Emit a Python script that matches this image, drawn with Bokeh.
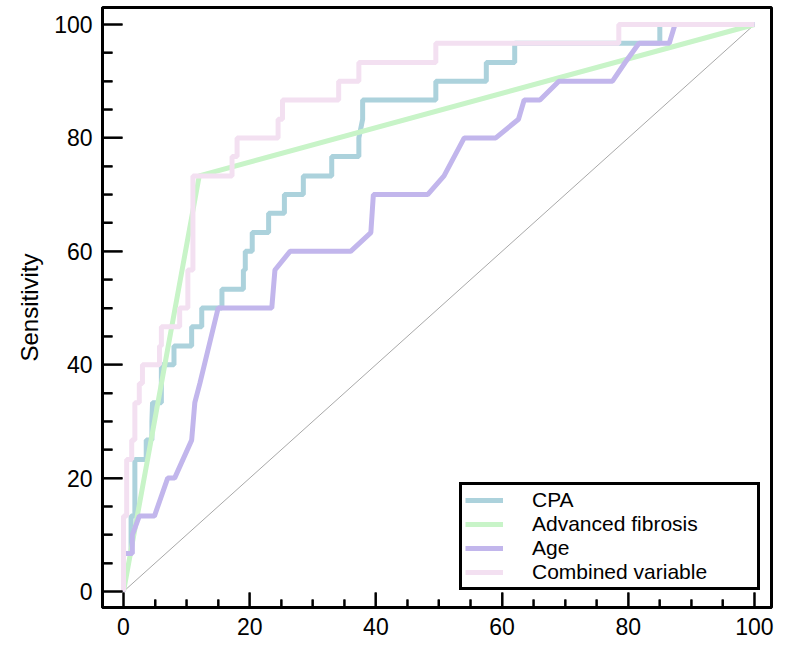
from bokeh.plotting import figure
from bokeh.models import Range1d, Legend, LegendItem, FixedTicker
from bokeh.embed import file_html
from bokeh.resources import INLINE

# ---- data ----
cpa_x = [0, 0, 1.2, 1.2, 1.8, 1.8, 3.6, 3.6, 4.5, 4.5, 4.6, 6.0, 6.0, 8.0, 8.0, 10.8, 10.8,
         12.4, 12.4, 15.6, 15.6, 19.0, 19.0, 19.3, 19.3, 20.4, 20.4, 23.0, 23.0, 25.5, 25.5,
         28.5, 28.5, 33.0, 33.0, 37.3, 37.3, 37.9, 37.9, 49.5, 49.5, 57.5, 57.5, 62.0, 62.0,
         85.0, 85.0, 100]
cpa_y = [0, 6.7, 6.7, 13.3, 13.3, 23.3, 23.3, 26.7, 26.7, 30.0, 33.3, 33.3, 40.0, 40.0, 43.3, 43.3, 46.7,
         46.7, 50.0, 50.0, 53.3, 53.3, 56.7, 56.7, 60.0, 60.0, 63.3, 63.3, 66.7, 66.7, 70.0,
         70.0, 73.3, 73.3, 76.7, 76.7, 80.0, 83.3, 86.7, 86.7, 90.0, 90.0, 93.3, 93.3, 96.7,
         96.7, 100, 100]

fib_x = [0, 12.0, 100]
fib_y = [0, 73.3, 100]

age_x = [0, 0, 1.4, 1.4, 2.5, 4.9, 7.0, 8.1, 10.8, 11.3, 12.1, 15.0, 23.5, 24.0, 26.4, 36.0,
         39.2, 39.6, 48.2, 50.8, 54.0, 59.0, 62.6, 63.5, 66.0, 69.0, 77.5, 79.5, 81.7, 86.5,
         87.4, 100]
age_y = [0, 6.7, 6.7, 10.0, 13.3, 13.3, 20.0, 20.0, 26.7, 33.3, 36.7, 50.0, 50.0, 56.7, 60.0, 60.0,
         63.3, 70.0, 70.0, 73.3, 80.0, 80.0, 83.3, 86.7, 86.7, 90.0, 90.0, 93.3, 96.7, 96.7,
         100, 100]

comb_x = [0, 0, 0.5, 0.5, 1.3, 1.3, 1.8, 1.8, 2.5, 2.5, 3.0, 3.0, 5.7, 5.7, 6.0, 6.0, 8.9, 8.9,
          10.2, 10.2, 11.0, 11.0, 17.2, 17.2, 18.0, 18.0, 24.5, 24.5, 25.2, 25.2, 34.1, 34.1,
          37.3, 37.3, 49.5, 49.5, 78.5, 78.5, 100]
comb_y = [0, 13.3, 13.3, 23.3, 23.3, 26.7, 26.7, 33.3, 33.3, 36.7, 36.7, 40.0, 40.0, 43.3, 43.3, 46.7, 46.7, 50.0,
          50.0, 56.7, 56.7, 73.3, 73.3, 76.7, 76.7, 80.0, 80.0, 83.3, 83.3, 86.7, 86.7, 90.0,
          90.0, 93.3, 93.3, 96.7, 96.7, 100, 100]

ref_x = [0, 100]
ref_y = [0, 100]

labels = ["CPA", "Advanced fibrosis", "Age", "Combined variable"]
colors = ["#acd2dc", "#c8f4c8", "#c2b6ec", "#f3e0f1"]
major_ticks = [0, 20, 40, 60, 80, 100]
minor_ticks = [5, 10, 15, 25, 30, 35, 45, 50, 55, 65, 70, 75, 85, 90, 95]

FONT = "Liberation Sans"

FW, FH = 669, 600
X0, X1 = -3.33, 102.7
Y0, Y1 = -2.82, 103.0

p = figure(frame_width=FW, frame_height=FH, output_backend="svg", toolbar_location=None,
           x_range=Range1d(X0, X1), y_range=Range1d(Y0, Y1),
           min_border_left=102, min_border_right=4, min_border_top=7, min_border_bottom=33)

p.outline_line_color = "black"
p.outline_line_width = 3
p.xgrid.visible = False
p.ygrid.visible = False

for ax in (p.xaxis[0], p.yaxis[0]):
    ax.ticker = FixedTicker(ticks=major_ticks, minor_ticks=minor_ticks)
    ax.axis_line_width = 3
    ax.axis_line_color = "black"
    ax.major_tick_out = 0
    ax.minor_tick_out = 0
    ax.major_tick_line_width = 2
    ax.minor_tick_line_width = 2
    ax.major_tick_line_color = "black"
    ax.minor_tick_line_color = "black"
    ax.major_label_text_font = FONT
    ax.major_label_text_font_size = "23px"
    ax.major_label_text_color = "black"
    ax.major_label_standoff = 10

p.xaxis[0].major_tick_in = 15
p.xaxis[0].minor_tick_in = 8
p.yaxis[0].major_tick_in = 20
p.yaxis[0].minor_tick_in = 10

p.yaxis.axis_label = "Sensitivity"
p.yaxis.axis_label_text_font = FONT
p.yaxis.axis_label_text_font_size = "24px"
p.yaxis.axis_label_text_font_style = "normal"
p.yaxis.axis_label_text_color = "black"
p.yaxis.axis_label_standoff = 8

p.line(ref_x, ref_y, line_color="#a8a8a8", line_width=1)

r_cpa = p.line(cpa_x, cpa_y, line_color=colors[0], line_width=5)
r_fib = p.line(fib_x, fib_y, line_color=colors[1], line_width=5)
r_age = p.line(age_x, age_y, line_color=colors[2], line_width=5)
r_comb = p.line(comb_x, comb_y, line_color=colors[3], line_width=5)

# inward tick marks, also drawn on the overlay level so nothing covers them
px_x = FW / (X1 - X0)
px_y = FH / (Y1 - Y0)
p.segment(x0=major_ticks, y0=[Y0] * len(major_ticks), x1=major_ticks,
          y1=[Y0 + 15 / px_y] * len(major_ticks), line_color="black", line_width=2, level="overlay")
p.segment(x0=minor_ticks, y0=[Y0] * len(minor_ticks), x1=minor_ticks,
          y1=[Y0 + 8 / px_y] * len(minor_ticks), line_color="black", line_width=2, level="overlay")
p.segment(x0=[X0] * len(major_ticks), y0=major_ticks, x1=[X0 + 20 / px_x] * len(major_ticks),
          y1=major_ticks, line_color="black", line_width=2, level="overlay")
p.segment(x0=[X0] * len(minor_ticks), y0=minor_ticks, x1=[X0 + 10 / px_x] * len(minor_ticks),
          y1=minor_ticks, line_color="black", line_width=2, level="overlay")

legend = Legend(items=[LegendItem(label=labels[0], renderers=[r_cpa]),
                       LegendItem(label=labels[1], renderers=[r_fib]),
                       LegendItem(label=labels[2], renderers=[r_age]),
                       LegendItem(label=labels[3], renderers=[r_comb])],
                location=(357, 17))
legend.label_text_font = FONT
legend.label_text_font_size = "21px"
legend.label_text_line_height = 0.97
legend.label_text_color = "black"
legend.border_line_color = "black"
legend.border_line_alpha = 1
legend.border_line_width = 3
legend.background_fill_color = "white"
legend.background_fill_alpha = 1
legend.glyph_width = 38
legend.glyph_height = 20
legend.label_height = 20
legend.label_standoff = 29
legend.label_width = 222
legend.spacing = 0
legend.padding = 3
legend.margin = 0
p.add_layout(legend, "center")

open("out.html", "w").write(file_html(p, INLINE))
